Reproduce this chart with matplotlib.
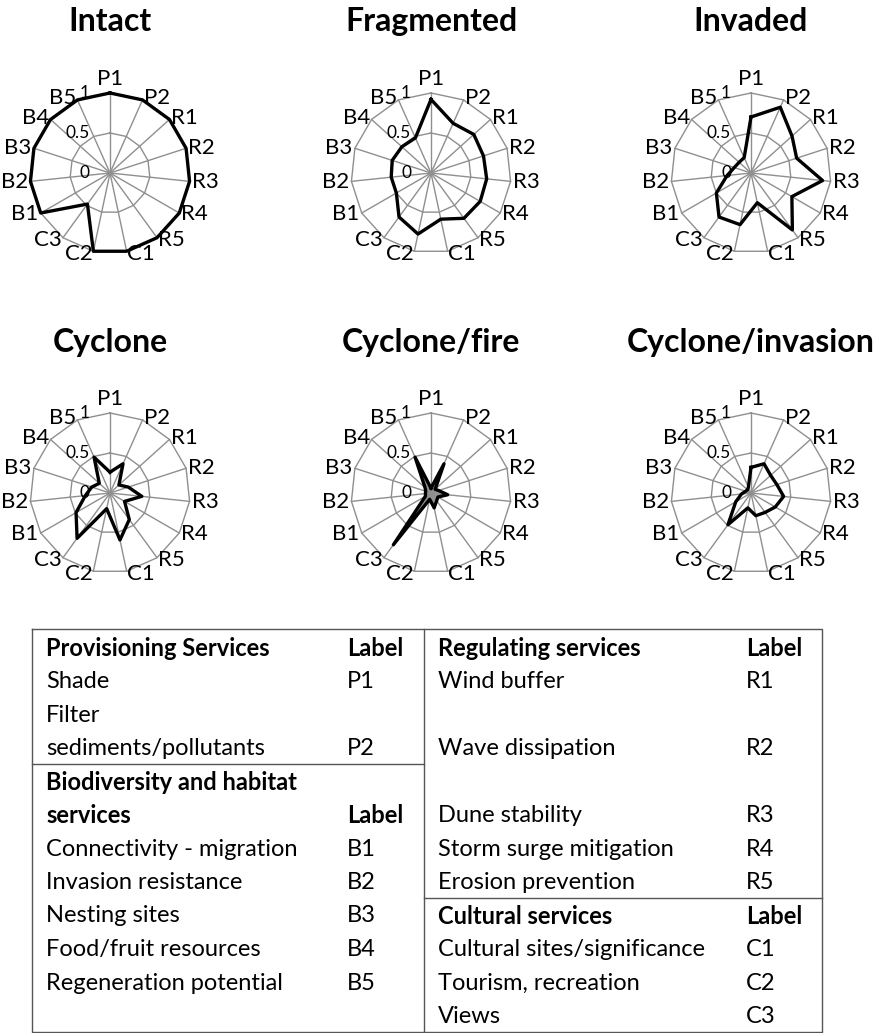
import numpy as np
import matplotlib.pyplot as plt

plt.rcParams['font.family'] = ['Lato', 'DejaVu Sans']

# axes of every radar, clockwise from the top
axis_labels = ['P1', 'P2', 'R1', 'R2', 'R3', 'R4', 'R5', 'C1', 'C2', 'C3',
               'B1', 'B2', 'B3', 'B4', 'B5']
titles = ['Intact', 'Fragmented', 'Invaded',
          'Cyclone', 'Cyclone/fire', 'Cyclone/invasion']

# values (0..1)
intact = [1.0, 1.0, 1.0, 1.0, 1.0, 1.0, 1.0, 1.0, 1.0, 0.48, 1.0, 1.0, 1.0, 1.0, 1.0]
fragmented = [0.92, 0.68, 0.72, 0.69, 0.70, 0.71, 0.70, 0.59, 0.78, 0.68,
              0.50, 0.50, 0.51, 0.49, 0.48]
invaded = [0.70, 0.90, 0.69, 0.60, 0.90, 0.59, 0.88, 0.38, 0.66, 0.68,
           0.50, 0.30, 0.22, 0.20, 0.21]
cyclone = [0.26, 0.40, 0.15, 0.24, 0.40, 0.21, 0.41, 0.60, 0.20, 0.70,
           0.49, 0.31, 0.24, 0.18, 0.49]
cyclone_fire = [0.06, 0.40, 0.07, 0.10, 0.21, 0.10, 0.12, 0.19, 0.08, 0.80,
                0.08, 0.07, 0.07, 0.10, 0.49]
cyclone_invasion = [0.32, 0.40, 0.33, 0.34, 0.41, 0.35, 0.30, 0.29, 0.19, 0.49,
                    0.22, 0.12, 0.07, 0.06, 0.08]
series = [intact, fragmented, invaded, cyclone, cyclone_fire, cyclone_invasion]

ring_values = [0.5, 1.0]
ring_labels = ['0', '0.5', '1']

# legend table
left_rows = [('Provisioning Services', 'Label', True),
             ('Shade', 'P1', False),
             ('Filter', '', False),
             ('sediments/pollutants', 'P2', False),
             ('Biodiversity and habitat', '', True),
             ('services', 'Label', True),
             ('Connectivity - migration', 'B1', False),
             ('Invasion resistance', 'B2', False),
             ('Nesting sites', 'B3', False),
             ('Food/fruit resources', 'B4', False),
             ('Regeneration potential', 'B5', False)]
right_rows = [('Regulating services', 'Label', True),
              ('Wind buffer', 'R1', False),
              ('', '', False),
              ('Wave dissipation', 'R2', False),
              ('', '', False),
              ('Dune stability', 'R3', False),
              ('Storm surge mitigation', 'R4', False),
              ('Erosion prevention', 'R5', False),
              ('Cultural services', 'Label', True),
              ('Cultural sites/significance', 'C1', False),
              ('Tourism, recreation', 'C2', False),
              ('Views', 'C3', False)]

W, H = 875, 1033
fig = plt.figure(figsize=(W / 100, H / 100), dpi=100)

grid_col = '#8f8f8f'
n = len(axis_labels)
angles = np.linspace(0, 2 * np.pi, n, endpoint=False)
closed = np.append(angles, angles[0])

centers = [(110, 173), (431, 173), (751, 173), (110, 493), (431, 493), (751, 493)]
title_y = [31, 31, 31, 352, 352, 352]
R = 80

for k, (cx, cy) in enumerate(centers):
    ax = fig.add_axes([(cx - R) / W, 1 - (cy + R) / H, 2 * R / W, 2 * R / H],
                      projection='polar')
    ax.set_theta_zero_location('N')
    ax.set_theta_direction(-1)
    ax.set_ylim(0, 1)
    ax.axis('off')

    for r in ring_values:
        ax.plot(closed, [r] * (n + 1), color=grid_col, lw=1, clip_on=False)
    for a in angles:
        ax.plot([a, a], [0, 1], color=grid_col, lw=1, clip_on=False)

    vals = series[k]
    vals_c = np.append(vals, vals[0])
    if titles[k] == 'Cyclone/fire':
        ax.fill(closed, vals_c, color='#9a9a9a', zorder=1)
    ax.plot(closed, vals_c, color='black', lw=2.4, clip_on=False, zorder=3)

    for a, lab in zip(angles, axis_labels):
        s = np.sin(a)
        if abs(s) < 0.01:
            ax.text(a, 1.05, lab, ha='center', va='bottom', fontsize=16)
        else:
            ax.text(a, 1.03, lab, ha='left' if s > 0 else 'right',
                    va='center', fontsize=16)

    for r, lab in zip([0] + ring_values, ring_labels):
        ax.annotate(lab, xy=(0, r), xytext=(-20, 0), textcoords='offset pixels',
                    ha='right', va='center', fontsize=12.5)

    fig.text(cx / W, 1 - title_y[k] / H, titles[k], ha='center', va='baseline',
             fontsize=23, fontweight='bold')

# table drawn in pixel coordinates
tab = fig.add_axes([0, 0, 1, 1])
tab.set_xlim(0, W)
tab.set_ylim(H, 0)
tab.axis('off')
line_col = '#555555'
left_x, mid_x, right_x = 32, 424, 822
top_y, bot_y = 629, 1032
tab.plot([left_x, right_x, right_x, left_x, left_x],
         [top_y, top_y, bot_y, bot_y, top_y], color=line_col, lw=1)
tab.plot([mid_x, mid_x], [top_y, bot_y], color=line_col, lw=1)
tab.plot([left_x, mid_x], [764, 764], color=line_col, lw=1)
tab.plot([mid_x, right_x], [898, 898], color=line_col, lw=1)

row0, step = 648, 33.5
for rows, x_text, x_lab in [(left_rows, 46, 347), (right_rows, 438, 746)]:
    for i, (txt, lab, bold) in enumerate(rows):
        y = row0 + i * step
        w = 'bold' if bold else 'normal'
        tab.text(x_text, y, txt, ha='left', va='center', fontsize=17, fontweight=w)
        tab.text(x_lab, y, lab, ha='left', va='center', fontsize=17, fontweight=w)

fig.savefig('out.png', dpi=100)
